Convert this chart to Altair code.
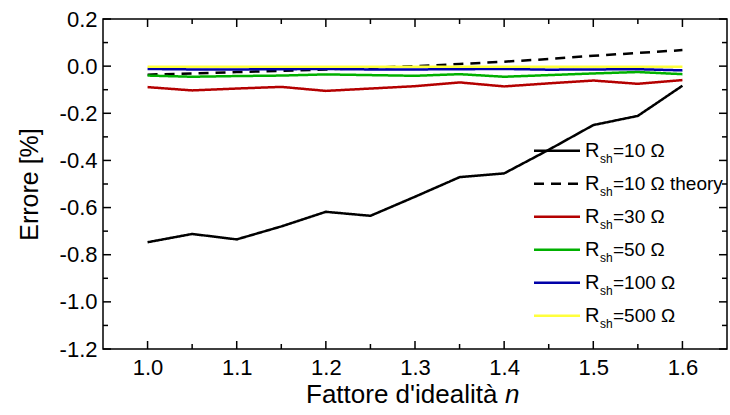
import altair as alt
import pandas as pd

# ---- data ----
n_values = [1.0, 1.05, 1.1, 1.15, 1.2, 1.25, 1.3, 1.35, 1.4, 1.45, 1.5, 1.55, 1.6]

err_10 = [-0.747, -0.712, -0.735, -0.680, -0.618, -0.635, -0.554, -0.471, -0.455, -0.355, -0.250, -0.211, -0.083]
err_10_theory = [-0.036, -0.031, -0.025, -0.020, -0.014, -0.007, 0.000, 0.009, 0.019, 0.030, 0.044, 0.056, 0.068]
err_30 = [-0.089, -0.103, -0.095, -0.088, -0.105, -0.095, -0.085, -0.069, -0.086, -0.073, -0.061, -0.075, -0.059]
err_50 = [-0.040, -0.045, -0.042, -0.040, -0.035, -0.038, -0.041, -0.034, -0.045, -0.038, -0.031, -0.025, -0.034]
err_100 = [-0.012, -0.014, -0.014, -0.013, -0.012, -0.014, -0.014, -0.013, -0.012, -0.015, -0.014, -0.013, -0.018]
err_500 = [-0.003, -0.003, -0.003, -0.003, -0.003, -0.003, -0.003, -0.003, -0.003, -0.003, -0.003, -0.003, -0.003]

series_names = ["10", "10 theory", "30", "50", "100", "500"]
legend_labels = ["=10 Ω", "=10 Ω theory", "=30 Ω", "=50 Ω", "=100 Ω", "=500 Ω"]
series_colors = ["#000000", "#000000", "#B40000", "#00B000", "#0000A8", "#FFFF3C"]
series_dash = [[1, 0], [10, 7], [1, 0], [1, 0], [1, 0], [1, 0]]
series_width = [2.5, 2.5, 2, 2, 2, 2]

y_major = [-1.2, -1.0, -0.8, -0.6, -0.4, -0.2, 0.0, 0.2]
y_minor = [-1.1, -0.9, -0.7, -0.5, -0.3, -0.1, 0.1]
x_major = [1.0, 1.1, 1.2, 1.3, 1.4, 1.5, 1.6]
x_minor = [1.05, 1.15, 1.25, 1.35, 1.45, 1.55]

x_title = "Fattore d'idealità "
x_title_italic = "n"
y_title = "Errore [%]"

# ---- build tables ----
all_series = [err_10, err_10_theory, err_30, err_50, err_100, err_500]
rows = []
for name, vals in zip(series_names, all_series):
    for n, v in zip(n_values, vals):
        rows.append({"n": n, "err": v, "series": name})
df = pd.DataFrame(rows)

leg = pd.DataFrame({"series": series_names, "label": legend_labels, "i": list(range(len(series_names)))})

W, H = 624, 330
FONT = "Liberation Sans"

xscale = alt.Scale(domain=[0.95, 1.65], nice=False, zero=False)
yscale = alt.Scale(domain=[-1.2, 0.2], nice=False, zero=False)
cscale = alt.Scale(domain=series_names, range=series_colors)
dscale = alt.Scale(domain=series_names, range=series_dash)
wscale = alt.Scale(domain=series_names, range=series_width)

lines = alt.Chart(df).mark_line(clip=True).encode(
    x=alt.X("n:Q", scale=xscale,
            axis=alt.Axis(values=x_major, format=".1f", title=None, ticks=False, domain=False,
                          grid=False, labelFontSize=22, labelPadding=8, labelColor="black")),
    y=alt.Y("err:Q", scale=yscale,
            axis=alt.Axis(values=y_major, title=y_title, ticks=False, domain=False, grid=False,
                          labelExpr="replace(format(datum.value, '.1f'), '\u2212', '-')",
                          labelFontSize=22, labelPadding=6, labelColor="black",
                          titleFontSize=25, titleFontWeight="normal", titleColor="black",
                          titlePadding=17)),
    color=alt.Color("series:N", scale=cscale, legend=None),
    strokeDash=alt.StrokeDash("series:N", scale=dscale, legend=None),
    strokeWidth=alt.StrokeWidth("series:N", scale=wscale, legend=None),
    order=alt.Order("n:Q"),
)

def ydf(vals):
    return pd.DataFrame({"v": vals})

tick_layers = []
for vals, L in [(y_major, 8), (y_minor, 5)]:
    tick_layers.append(alt.Chart(ydf(vals)).mark_rule(color="black", strokeWidth=1.5).encode(
        y=alt.Y("v:Q", scale=yscale), x=alt.value(0), x2=alt.value(L)))
    tick_layers.append(alt.Chart(ydf(vals)).mark_rule(color="black", strokeWidth=1.5).encode(
        y=alt.Y("v:Q", scale=yscale), x=alt.value(W), x2=alt.value(W - L)))
for vals, L in [(x_major, 8), (x_minor, 5)]:
    tick_layers.append(alt.Chart(ydf(vals)).mark_rule(color="black", strokeWidth=1.5).encode(
        x=alt.X("v:Q", scale=xscale), y=alt.value(0), y2=alt.value(L)))
    tick_layers.append(alt.Chart(ydf(vals)).mark_rule(color="black", strokeWidth=1.5).encode(
        x=alt.X("v:Q", scale=xscale), y=alt.value(H), y2=alt.value(H - L)))

leg_base = alt.Chart(leg).transform_calculate(ly="131.7 + 33 * datum.i")
leg_lines = leg_base.mark_rule().encode(
    x=alt.value(431), x2=alt.value(477),
    y=alt.Y("ly:Q", scale=None),
    color=alt.Color("series:N", scale=cscale, legend=None),
    strokeDash=alt.StrokeDash("series:N", scale=dscale, legend=None),
    strokeWidth=alt.StrokeWidth("series:N", scale=wscale, legend=None),
)
leg_R = leg_base.mark_text(text="R", align="left", baseline="middle", fontSize=20, font=FONT, color="black").encode(
    x=alt.value(482), y=alt.Y("ly:Q", scale=None))
leg_sh = leg_base.mark_text(text="sh", align="left", baseline="middle", fontSize=12, font=FONT, color="black", dy=8).encode(
    x=alt.value(497), y=alt.Y("ly:Q", scale=None))
leg_txt = leg_base.mark_text(align="left", baseline="middle", fontSize=19, font=FONT, color="black").encode(
    x=alt.value(510), y=alt.Y("ly:Q", scale=None), text="label:N")

title_df = pd.DataFrame({"t": [x_title], "ti": [x_title_italic]})
xt1 = alt.Chart(title_df).mark_text(align="left", baseline="alphabetic", fontSize=26, font=FONT, color="black").encode(
    x=alt.value(203), y=alt.value(384), text="t:N")
xt2 = alt.Chart(title_df).mark_text(align="left", baseline="alphabetic", fontSize=26, font=FONT, color="black",
                                    fontStyle="italic").encode(
    x=alt.value(402), y=alt.value(384), text="ti:N")

chart = alt.layer(lines, *tick_layers, leg_lines, leg_R, leg_sh, leg_txt, xt1, xt2).properties(
    width=W, height=H,
    autosize=alt.AutoSizeParams(type="none"),
    padding={"left": 103, "top": 19, "right": 3, "bottom": 66},
).configure(font=FONT).configure_view(stroke="black", strokeWidth=1.5).configure_axis(labelFont=FONT, titleFont=FONT)

chart.save("out.html", embed_options={"renderer": "svg", "actions": False})
